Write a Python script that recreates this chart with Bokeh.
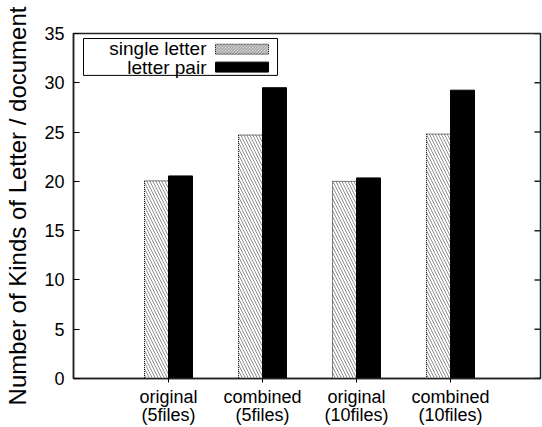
from bokeh.plotting import figure
from bokeh.models import Range1d, FixedTicker, LinearAxis, ColumnDataSource
from bokeh.core.properties import value
from bokeh.embed import file_html
from bokeh.resources import INLINE

# ---- data ----
category_line1 = ["original", "combined", "original", "combined"]
category_line2 = ["(5files)", "(5files)", "(10files)", "(10files)"]
single_letter = [20.05, 24.7, 20.0, 24.8]
letter_pair = [20.55, 29.5, 20.35, 29.25]
y_ticks = [0, 5, 10, 15, 20, 25, 30, 35]
series_names = ["single letter", "letter pair"]

FONT = "Liberation Sans"
BAR_W = 0.255
AX = "#222222"
X_START, X_END = -1.0106, 3.957

idx = list(range(len(category_line1)))
src_single = ColumnDataSource(dict(x=[i - BAR_W / 2 for i in idx], top=single_letter))
src_pair = ColumnDataSource(dict(x=[i + BAR_W / 2 for i in idx], top=letter_pair))

p = figure(width=542, height=427,
           x_range=Range1d(X_START, X_END), y_range=Range1d(0, 35),
           output_backend="svg", toolbar_location=None,
           min_border_left=73, min_border_right=2, min_border_top=33, min_border_bottom=10,
           x_axis_location="below", y_axis_location="left")
p.grid.visible = False
p.outline_line_color = AX
p.outline_line_width = 1.5
p.background_fill_color = "white"
p.border_fill_color = "white"

# bars
p.vbar(x="x", top="top", width=BAR_W, source=src_single,
       fill_color="white", line_color="black", line_width=1, line_dash="1 1",
       hatch_pattern="\\", hatch_color="#333333", hatch_alpha=0.55, hatch_scale=6, hatch_weight=1)
p.vbar(x="x", top="top", width=BAR_W, source=src_pair,
       fill_color="black", line_color="black", line_width=1)

# x axis: first label line
xa = p.xaxis[0]
xa.ticker = FixedTicker(ticks=idx)
xa.major_label_overrides = {i: c for i, c in zip(idx, category_line1)}
xa.major_tick_in = 0
xa.major_tick_out = 4
xa.minor_tick_line_color = None
xa.major_label_standoff = 4
xa.major_label_text_font = FONT
xa.major_label_text_font_size = "18px"
xa.major_label_text_color = "black"
xa.axis_line_color = AX
xa.axis_line_width = 1.5

# x axis: second label line
xa2 = LinearAxis(ticker=FixedTicker(ticks=idx),
                 major_label_overrides={i: c for i, c in zip(idx, category_line2)},
                 major_tick_in=0, major_tick_out=0, major_tick_line_color=None,
                 minor_tick_line_color=None, axis_line_color=None,
                 major_label_standoff=-5, major_label_text_font=FONT,
                 major_label_text_font_size="18px", major_label_text_color="black")
p.add_layout(xa2, "below")

ya = p.yaxis[0]
ya.ticker = FixedTicker(ticks=y_ticks)
ya.major_tick_in = 6
ya.major_tick_out = 0
ya.minor_tick_line_color = None
ya.major_label_standoff = 9
ya.major_label_text_font = FONT
ya.major_label_text_font_size = "18px"
ya.major_label_text_color = "black"
ya.axis_line_color = AX
ya.axis_line_width = 1.5
ya.axis_label = "Number of Kinds of Letter / document"
ya.axis_label_text_font = FONT
ya.axis_label_text_font_size = "24px"
ya.axis_label_text_font_style = "normal"
ya.axis_label_text_color = "black"
ya.axis_label_standoff = 10

# mirrored y ticks on the right border (inward)
tick_len = 6 / 94.0
p.segment(x0=[X_END - tick_len] * len(y_ticks), x1=[X_END] * len(y_ticks),
          y0=y_ticks, y1=y_ticks, line_color=AX, line_width=1.5)

# legend (drawn manually: label left, sample right, as in the reference)
p.rect(x=[0.128], y=[32.62], width=2.064, height=3.74, fill_color="white",
       line_color="black", line_width=1)
p.text(x=[0.404, 0.404], y=[33.48, 31.56], text=series_names,
       text_align="right", text_baseline="middle",
       text_font=value(FONT), text_font_size="19px", text_color="black")
p.rect(x=[0.782], y=[33.41], width=0.564, height=1.01, fill_color="white",
       line_color="black", line_width=1, line_dash="1 1",
       hatch_pattern="\\", hatch_color="#333333", hatch_alpha=0.55, hatch_scale=3, hatch_weight=1)
p.rect(x=[0.782], y=[31.59], width=0.564, height=1.01, fill_color="black",
       line_color="black", line_width=1)

open("out.html", "w").write(file_html(p, INLINE))
